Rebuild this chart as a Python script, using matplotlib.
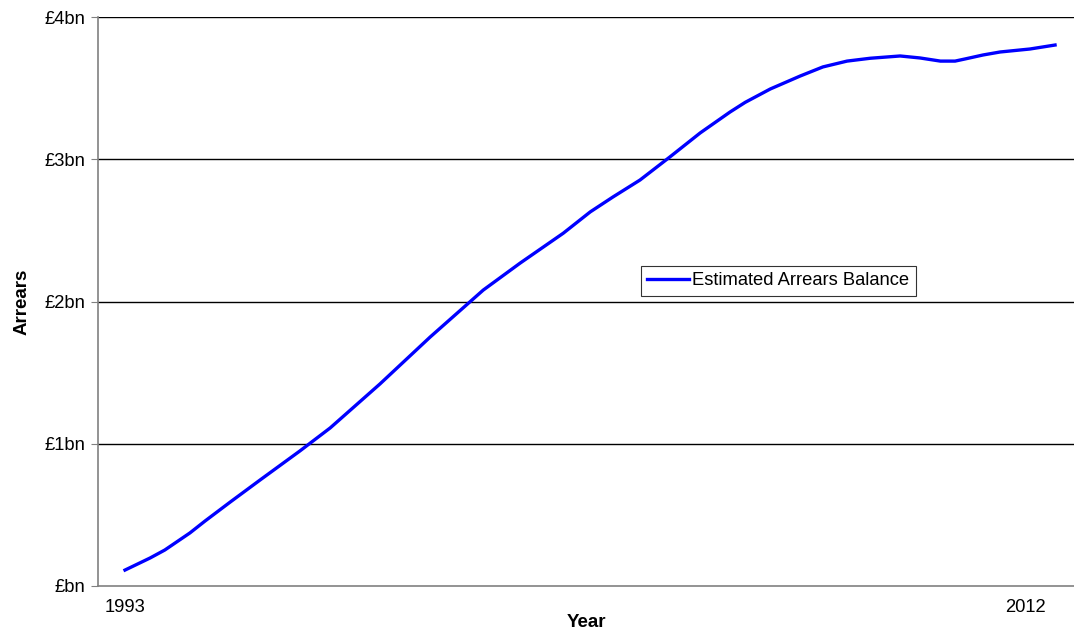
import matplotlib.pyplot as plt

plt.rcParams['font.family'] = ['Liberation Sans', 'DejaVu Sans']

# decimal year positions and balance (in £bn)
years = [1993.0, 1993.53, 1993.84, 1994.37, 1994.69, 1995.22, 1995.85, 1996.69,
         1997.33, 1998.38, 1999.44, 2000.56, 2001.34, 2002.25, 2002.82, 2003.30,
         2003.87, 2004.50, 2005.14, 2005.77, 2006.09, 2006.62, 2007.25, 2007.73,
         2008.24, 2008.73, 2009.36, 2009.78, 2010.21, 2010.52, 2010.73, 2011.11,
         2011.47, 2012.10, 2012.63]
arrears = [0.112, 0.197, 0.253, 0.373, 0.457, 0.59, 0.745, 0.949,
           1.111, 1.42, 1.75, 2.08, 2.27, 2.48, 2.63, 2.735,
           2.854, 3.016, 3.185, 3.332, 3.40, 3.494, 3.585, 3.649,
           3.69, 3.71, 3.726, 3.712, 3.69, 3.69, 3.705, 3.733,
           3.754, 3.775, 3.803]

y_ticks = [0, 1, 2, 3, 4]
y_labels = ['£bn', '£1bn', '£2bn', '£3bn', '£4bn']
x_ticks = [1993, 2012]
x_labels = ['1993', '2012']

fig = plt.figure(figsize=(10.74, 6.3), dpi=100)
ax = fig.add_axes([98 / 1074, 44 / 630, 976 / 1074, 569 / 630])

ax.plot(years, arrears, color='#0000ff', lw=2.4, label='Estimated Arrears Balance',
        solid_joinstyle='round', zorder=3)

ax.set_xlim(1992.43, 2013.03)
ax.set_ylim(0, 4)
ax.set_yticks(y_ticks)
ax.set_yticklabels(y_labels)
ax.set_xticks(x_ticks)
ax.set_xticklabels(x_labels)

for v in y_ticks[1:]:
    ax.axhline(v, color='black', lw=1, zorder=1)

for s in ['top', 'right']:
    ax.spines[s].set_visible(False)
for s in ['left', 'bottom']:
    ax.spines[s].set_color('#808080')
    ax.spines[s].set_linewidth(1.2)

ax.tick_params(axis='y', length=5, color='#808080', labelsize=13.2, pad=4)
ax.tick_params(axis='x', length=0, labelsize=13.2, pad=9)

ax.set_xlabel('Year', fontsize=13.5, fontweight='bold', labelpad=-1)
ax.set_ylabel('Arrears', fontsize=13.5, fontweight='bold', labelpad=10)

leg = ax.legend(loc='lower left', bbox_to_anchor=(0.556, 0.51), fontsize=13.2,
                frameon=True, fancybox=False, handlelength=2.3, borderpad=0.35,
                handletextpad=0.15, borderaxespad=0)
leg.get_frame().set_edgecolor('black')
leg.get_frame().set_linewidth(0.8)

fig.savefig('out.png', dpi=100)
